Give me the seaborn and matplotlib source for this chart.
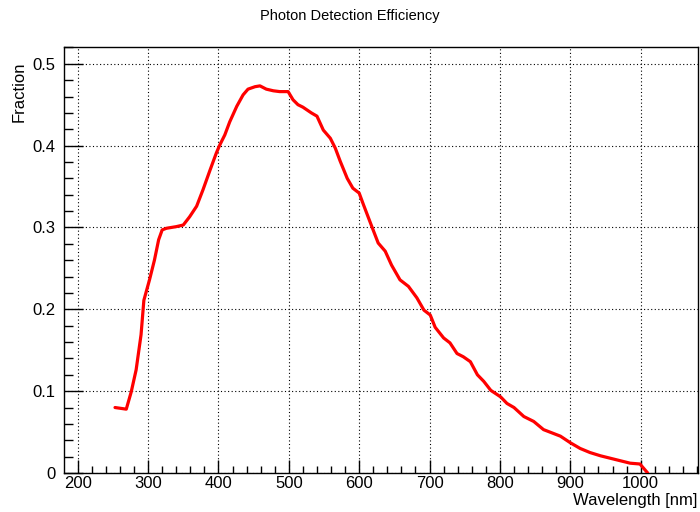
import matplotlib
matplotlib.use("Agg")
import matplotlib.pyplot as plt
import seaborn as sns
import pandas as pd
from matplotlib.ticker import MultipleLocator

wavelength = [253, 269, 276, 283, 290, 294, 302, 309, 315, 320, 326, 340, 350,
              359, 369, 378, 388, 397, 402, 409, 416, 426, 435, 442, 452, 459,
              468, 478, 487, 499, 506, 513, 520, 532, 540, 549, 559, 566, 573,
              583, 591, 600, 606, 618, 627, 637, 646, 658, 670, 682, 692, 701,
              708, 720, 729, 739, 748, 758, 768, 777, 787, 801, 810, 820, 834,
              848, 862, 877, 886, 900, 914, 928, 943, 957, 971, 985, 999, 1010]
fraction = [0.080, 0.078, 0.099, 0.126, 0.169, 0.211, 0.236, 0.260, 0.285, 0.297,
            0.299, 0.301, 0.303, 0.313, 0.326, 0.346, 0.370, 0.391, 0.401, 0.413,
            0.429, 0.448, 0.462, 0.469, 0.472, 0.473, 0.469, 0.467, 0.466, 0.466,
            0.456, 0.450, 0.447, 0.440, 0.436, 0.419, 0.409, 0.397, 0.381, 0.360,
            0.348, 0.342, 0.328, 0.301, 0.281, 0.271, 0.254, 0.236, 0.228, 0.214,
            0.199, 0.193, 0.178, 0.165, 0.159, 0.146, 0.142, 0.136, 0.120, 0.112,
            0.101, 0.093, 0.085, 0.080, 0.069, 0.063, 0.053, 0.048, 0.045, 0.037,
            0.030, 0.025, 0.021, 0.018, 0.015, 0.012, 0.011, 0.000]

title = "Photon Detection Efficiency"
xlabel = "Wavelength [nm]"
ylabel = "Fraction"

sns.set_theme(style="white")
plt.rcParams['font.family'] = ['Liberation Sans', 'DejaVu Sans']

df = pd.DataFrame({"wavelength": wavelength, "fraction": fraction})

fig = plt.figure(figsize=(7.0, 5.12), dpi=100)
fig.patch.set_facecolor("white")
ax = fig.add_axes([64/700, 39/512, 634/700, 426/512])
ax.set_facecolor("white")

sns.lineplot(data=df, x="wavelength", y="fraction", ax=ax, color="#ff0000",
             linewidth=2.3, sort=False, estimator=None, zorder=3)

ax.set_xlim(180.5, 1081.5)
ax.set_ylim(0, 0.5205)
ax.xaxis.set_major_locator(MultipleLocator(100))
ax.xaxis.set_minor_locator(MultipleLocator(20))
ax.yaxis.set_major_locator(MultipleLocator(0.1))
ax.yaxis.set_minor_locator(MultipleLocator(0.02))
ax.yaxis.set_major_formatter(matplotlib.ticker.FuncFormatter(
    lambda v, p: "0" if abs(v) < 1e-9 else f"{v:.1f}"))

ax.grid(True, which="major", color="black", linestyle=(0, (1, 2.2)), linewidth=0.8)
for s in ax.spines.values():
    s.set_color("black")
    s.set_linewidth(1.0)

ax.tick_params(axis="x", which="major", direction="in", length=9.5, width=1.0,
               color="black", labelsize=12, pad=2, bottom=True, top=False)
ax.tick_params(axis="x", which="minor", direction="in", length=4.8, width=1.0,
               color="black", bottom=True, top=False)
ax.tick_params(axis="y", which="major", direction="in", length=13.5, width=1.0,
               color="black", labelsize=12, pad=6, left=True, right=False)
ax.tick_params(axis="y", which="minor", direction="in", length=6.6, width=1.0,
               color="black", left=True, right=False)
for lab in ax.get_xticklabels() + ax.get_yticklabels():
    lab.set_color("black")

ax.set_xlabel("")
ax.set_ylabel("")

fig.text(0.5, 1 - 16/512, title, ha="center", va="center", fontsize=10.5, color="black")
fig.text(697/700, 7/512, xlabel, ha="right", va="baseline", fontsize=12, color="black")
fig.text(19/700, 1 - 62/512, ylabel, ha="center", va="top", rotation=90,
         fontsize=12, color="black")

fig.savefig("out.png", dpi=100, facecolor="white")
